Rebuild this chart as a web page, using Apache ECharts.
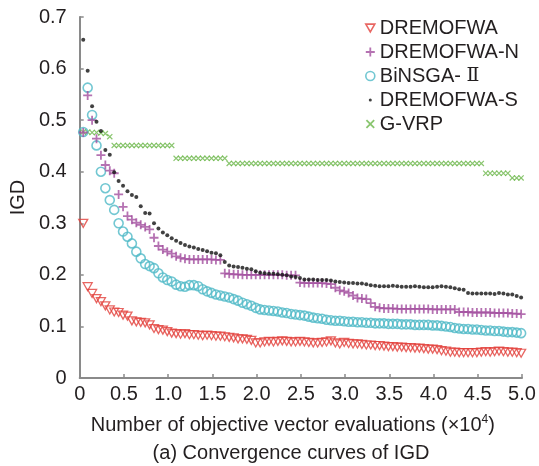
<!DOCTYPE html>
<html>
<head>
<meta charset="utf-8">
<script src="https://cdn.jsdelivr.net/npm/echarts@6/dist/echarts.min.js"></script>
<style>
html,body{margin:0;padding:0;background:#fff;}
#chart{width:539px;height:466px;}
</style>
</head>
<body>
<div id="chart"></div>
<script>
// x positions (×10^4 objective vector evaluations)
var evals = [0.04,0.09,0.14,0.19,0.24,0.29,0.34,0.39,0.44,0.49,
0.54,0.59,0.64,0.69,0.74,0.79,0.84,0.89,0.94,0.99,
1.04,1.09,1.14,1.19,1.24,1.29,1.34,1.39,1.44,1.49,
1.54,1.59,1.64,1.69,1.74,1.79,1.84,1.89,1.94,1.99,
2.04,2.09,2.14,2.19,2.24,2.29,2.34,2.39,2.44,2.49,
2.54,2.59,2.64,2.69,2.74,2.79,2.84,2.89,2.94,2.99,
3.04,3.09,3.14,3.19,3.24,3.29,3.34,3.39,3.44,3.49,
3.54,3.59,3.64,3.69,3.74,3.79,3.84,3.89,3.94,3.99,
4.04,4.09,4.14,4.19,4.24,4.29,4.34,4.39,4.44,4.49,
4.54,4.59,4.64,4.69,4.74,4.79,4.84,4.89,4.94,4.99];

var seriesNames = ['DREMOFWA','DREMOFWA-N','BiNSGA- Ⅱ','DREMOFWA-S','G-VRP'];

var dremofwa = [0.300,0.177,0.164,0.154,0.148,0.140,0.132,0.128,0.127,0.122,
0.120,0.111,0.109,0.108,0.107,0.103,0.096,0.094,0.093,0.090,
0.087,0.086,0.085,0.086,0.084,0.084,0.083,0.082,0.083,0.082,
0.081,0.081,0.080,0.079,0.078,0.076,0.076,0.075,0.073,0.068,
0.068,0.070,0.071,0.070,0.071,0.072,0.071,0.070,0.070,0.071,
0.070,0.069,0.068,0.068,0.069,0.070,0.072,0.068,0.066,0.069,
0.067,0.066,0.066,0.065,0.064,0.064,0.063,0.063,0.062,0.061,
0.061,0.060,0.060,0.059,0.059,0.058,0.058,0.057,0.056,0.056,
0.055,0.053,0.052,0.050,0.050,0.049,0.049,0.049,0.049,0.049,
0.050,0.051,0.050,0.051,0.052,0.051,0.050,0.050,0.049,0.048];

var dremofwaN = [0.476,0.548,0.500,0.464,0.432,0.413,0.402,0.397,0.356,0.332,
0.314,0.307,0.301,0.297,0.293,0.288,0.272,0.256,0.249,0.245,
0.241,0.236,0.233,0.231,0.230,0.230,0.230,0.230,0.230,0.230,
0.229,0.229,0.203,0.202,0.201,0.201,0.200,0.200,0.200,0.200,
0.200,0.200,0.200,0.200,0.200,0.200,0.199,0.199,0.199,0.185,
0.184,0.184,0.184,0.184,0.184,0.183,0.182,0.175,0.170,0.168,
0.165,0.160,0.155,0.154,0.153,0.145,0.138,0.136,0.135,0.135,
0.135,0.134,0.134,0.134,0.134,0.134,0.134,0.134,0.134,0.133,
0.133,0.133,0.133,0.133,0.133,0.128,0.128,0.128,0.127,0.127,
0.127,0.127,0.127,0.126,0.126,0.126,0.126,0.125,0.125,0.124];

var binsga = [0.477,0.563,0.510,0.451,0.400,0.368,0.345,0.326,0.300,0.284,
0.274,0.261,0.245,0.232,0.221,0.217,0.213,0.203,0.195,0.190,
0.187,0.181,0.178,0.177,0.180,0.180,0.178,0.172,0.168,0.165,
0.162,0.160,0.158,0.156,0.153,0.150,0.146,0.143,0.140,0.136,
0.133,0.132,0.131,0.130,0.129,0.127,0.126,0.124,0.123,0.122,
0.121,0.119,0.117,0.116,0.115,0.113,0.112,0.111,0.111,0.110,
0.109,0.109,0.108,0.108,0.107,0.107,0.106,0.106,0.106,0.105,
0.105,0.105,0.104,0.104,0.104,0.103,0.103,0.103,0.103,0.102,
0.102,0.101,0.100,0.099,0.097,0.096,0.095,0.095,0.094,0.094,
0.093,0.092,0.092,0.091,0.091,0.090,0.089,0.089,0.088,0.087];

var dremofwaS = [0.656,0.596,0.527,0.497,0.479,0.442,0.433,0.399,0.382,0.373,
0.362,0.355,0.351,0.333,0.320,0.319,0.300,0.290,0.282,0.277,
0.271,0.266,0.262,0.258,0.255,0.253,0.250,0.248,0.246,0.243,
0.242,0.238,0.225,0.218,0.216,0.215,0.214,0.212,0.211,0.207,
0.204,0.203,0.202,0.202,0.201,0.200,0.199,0.197,0.196,0.194,
0.191,0.191,0.191,0.190,0.190,0.190,0.189,0.187,0.186,0.185,
0.184,0.184,0.183,0.183,0.182,0.180,0.179,0.178,0.178,0.178,
0.179,0.178,0.177,0.177,0.177,0.178,0.177,0.176,0.176,0.176,
0.177,0.178,0.177,0.176,0.174,0.172,0.171,0.165,0.164,0.164,
0.164,0.164,0.164,0.163,0.165,0.164,0.162,0.162,0.159,0.156];

var gvrp = [0.477,0.477,0.476,0.476,0.475,0.474,0.468,0.451,0.451,0.451,
0.451,0.451,0.451,0.451,0.451,0.451,0.451,0.451,0.451,0.451,
0.451,0.426,0.426,0.426,0.426,0.426,0.426,0.426,0.426,0.426,
0.426,0.426,0.426,0.416,0.416,0.416,0.416,0.416,0.416,0.416,
0.416,0.416,0.416,0.416,0.416,0.416,0.416,0.416,0.416,0.416,
0.416,0.416,0.416,0.416,0.416,0.416,0.416,0.416,0.416,0.416,
0.416,0.416,0.416,0.416,0.416,0.416,0.416,0.416,0.416,0.416,
0.416,0.416,0.416,0.416,0.416,0.416,0.416,0.416,0.416,0.416,
0.416,0.416,0.416,0.416,0.416,0.416,0.416,0.416,0.416,0.416,
0.416,0.397,0.397,0.397,0.397,0.397,0.397,0.388,0.388,0.388];

var xTickLabels = ['0','0.5','1.0','1.5','2.0','2.5','3.0','3.5','4.0','4.5','5.0'];
var yTickLabels = ['0','0.1','0.2','0.3','0.4','0.5','0.6','0.7'];

function pairs(ys){ return ys.map(function(v,i){ return [evals[i], v]; }); }

var FONT = 'Liberation Sans, Arial, sans-serif';
var TXT = '#231f20';
var AX = '#8a8a8a';
var RED = '#e2403b', PUR = '#a24f9f', CYA = '#4fb9c7', BLK = '#111111', GRN = '#6cb64a';
var PLUS = 'path://M4,0h2v10h-2zM0,4h10v2h-10z';
var CROSS = 'path://M0,1.4L1.4,0L10,8.6L8.6,10zM8.6,0L10,1.4L1.4,10L0,8.6z';
var TRI_DOWN = 'path://M0,0L10,0L5,8.7z';
var DOT = 'path://M0,0h0.01v0.01h-0.01zM10,10h0.01v0.01h-0.01zM3.3,5a1.7,1.7 0 1,0 3.4,0a1.7,1.7 0 1,0 -3.4,0z';

var chart = echarts.init(document.getElementById('chart'), null, {renderer:'canvas'});
chart.setOption({
  animation:false,
  backgroundColor:'#fff',
  textStyle:{fontFamily:FONT},
  title:{
    text:'(a) Convergence curves of IGD',
    left:291, top:443, padding:0, textAlign:'center',
    textStyle:{fontFamily:FONT,fontSize:20,fontWeight:'normal',color:TXT}
  },
  grid:{left:76,right:17,top:17,bottom:88},
  legend:{
    orient:'vertical', left:360, top:13, itemWidth:9, itemHeight:9, itemGap:4,
    textStyle:{fontFamily:FONT,fontSize:20,color:TXT,
      rich:{r:{fontFamily:'DejaVu Serif, Liberation Serif, serif',fontSize:19,color:TXT}}},
    formatter:function(name){
      if (name === seriesNames[2]) { return 'BiNSGA- {r|Ⅱ}'; }
      return name;
    },
    data:[
      {name:seriesNames[0], icon:TRI_DOWN, itemStyle:{color:'#fff',borderColor:RED,borderWidth:1.6}},
      {name:seriesNames[1], icon:PLUS, itemStyle:{color:PUR,borderWidth:0}},
      {name:seriesNames[2], icon:'circle', itemStyle:{color:'#fff',borderColor:CYA,borderWidth:1.6}},
      {name:seriesNames[3], icon:DOT, itemStyle:{color:BLK,borderWidth:0}},
      {name:seriesNames[4], icon:CROSS, itemStyle:{color:GRN,borderWidth:0}}
    ]
  },
  xAxis:{
    type:'value', min:0, max:5, interval:0.5,
    name:'{a|Number of objective vector evaluations (×10}{s|4}{a|)}',
    nameLocation:'middle', nameGap:36,
    nameTextStyle:{padding:[0,16,0,0], rich:{
      a:{fontFamily:FONT,fontSize:20,color:TXT},
      s:{fontFamily:FONT,fontSize:12,color:TXT,padding:[0,0,10,0]}
    }},
    axisLine:{lineStyle:{color:AX,width:2}},
    axisTick:{inside:true,length:4,lineStyle:{color:AX,width:1.5}},
    axisLabel:{margin:6,fontFamily:FONT,fontSize:20,color:TXT,
      formatter:function(v){ return xTickLabels[Math.round(v/0.5)]; }},
    splitLine:{show:false}
  },
  yAxis:{
    type:'value', min:0, max:0.7, interval:0.1,
    name:'IGD', nameLocation:'middle', nameGap:49,
    nameTextStyle:{fontFamily:FONT,fontSize:20,color:TXT},
    axisLine:{show:true,lineStyle:{color:AX,width:2}},
    axisTick:{show:true,inside:true,length:4,lineStyle:{color:AX,width:1.5}},
    axisLabel:{margin:13,fontFamily:FONT,fontSize:20,color:TXT,
      formatter:function(v){ return yTickLabels[Math.round(v/0.1)]; }},
    splitLine:{show:false}
  },
  series:[
    {name:seriesNames[4], type:'scatter', data:pairs(gvrp), symbol:CROSS, symbolSize:6,
     itemStyle:{color:GRN}},
    {name:seriesNames[0], type:'scatter', data:pairs(dremofwa), symbol:TRI_DOWN, symbolSize:[9,8],
     itemStyle:{color:'rgba(0,0,0,0)',borderColor:RED,borderWidth:1.3}},
    {name:seriesNames[2], type:'scatter', data:pairs(binsga), symbol:'circle', symbolSize:9,
     itemStyle:{color:'rgba(0,0,0,0)',borderColor:CYA,borderWidth:1.6}},
    {name:seriesNames[1], type:'scatter', data:pairs(dremofwaN), symbol:PLUS, symbolSize:9,
     itemStyle:{color:PUR}},
    {name:seriesNames[3], type:'scatter', data:pairs(dremofwaS), symbol:'circle', symbolSize:4,
     itemStyle:{color:BLK}}
  ]
});
</script>
</body>
</html>
